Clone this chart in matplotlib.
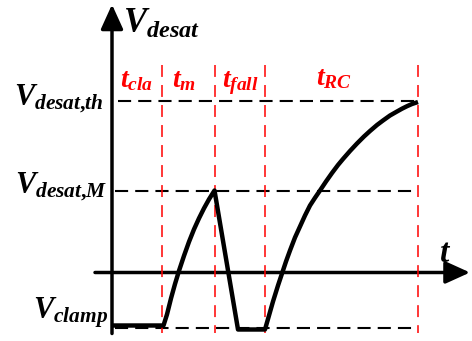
import matplotlib
matplotlib.use("Agg")
import matplotlib.pyplot as plt

plt.rcParams['mathtext.fontset'] = 'custom'
plt.rcParams['mathtext.it'] = 'Liberation Serif:italic:bold'
plt.rcParams['mathtext.rm'] = 'Liberation Serif:bold'
plt.rcParams['mathtext.bf'] = 'Liberation Serif:bold'

# voltage levels (schematic units, axis crossing = 0)
v_th = 172.0
v_m = 82.0
v_clamp = -55.5

# phase boundaries on the time axis
t_cla_end = 50.0
t_m_end = 102.5
t_fall_end = 153.0
t_rc_end = 306.0

# V_desat waveform
wave_t = [0, 51.5, 55, 59, 63, 67, 72, 77, 82, 87, 92, 97, 102.5,
          126, 153, 157, 161, 166, 170, 174, 178, 183, 188, 193, 198,
          203, 208, 214, 220, 226, 231, 238, 245, 252, 258, 265, 271,
          278, 285, 290, 295, 300, 306]
wave_v = [-53, -53, -41.9, -25.9, -11.5, 1.7, 16.7, 30.7, 43.2, 54.2, 64.2, 73.2, 82,
          -57, -57, -43, -29, -13, -1, 11, 22, 35, 46, 57, 67,
          74.7, 82, 91, 99.5, 107.5, 113.5, 121.5, 129, 136, 141.5, 147.5, 152,
          157, 161, 163.8, 166.3, 168.5, 170.5]

level_names = [r'$V_{desat{,}th}$', r'$V_{desat{,}M}$', r'$V_{clamp}$']
level_vals = [v_th, v_m, v_clamp]
level_label_pos = [(-98, 167.5), (-97, 79.5), (-79, -45.5)]
level_line_start = [6, 3, 3]

phase_names = [r'$t_{cla}$', r'$t_{m}$', r'$t_{fall}$', r'$t_{RC}$']
phase_label_pos = [(8, 185.5), (60, 185.5), (110, 185.5), (204, 187.5)]
phase_bounds = [t_cla_end, t_m_end, t_fall_end, t_rc_end]

fig = plt.figure(figsize=(4.72, 3.41), dpi=100)
ax = fig.add_axes([0, 0, 1, 1])
ax.set_xlim(-112, 360)
ax.set_ylim(-68.5, 272.5)
ax.axis('off')

# axes with arrows
arrow = dict(arrowstyle='-|>,head_length=0.75,head_width=0.34',
             lw=2.5, color='k', mutation_scale=20, shrinkA=0, shrinkB=0)
ax.annotate('', xy=(0, 268), xytext=(0, -61), arrowprops=arrow, zorder=2)
ax.annotate('', xy=(358, 0), xytext=(-17, 0), arrowprops=arrow, zorder=2)

# reference levels
for v, t0 in zip(level_vals, level_line_start):
    ax.plot([t0, t_rc_end], [v, v], color='k', lw=1.5,
            linestyle=(0, (6.3, 3.4)), zorder=1)

# phase boundaries
for t in phase_bounds:
    ax.plot([t, t], [207.5, -60.5], color='#ff0000', lw=1.1,
            linestyle=(0, (7.8, 5.3)), zorder=3)

# waveform
ax.plot(wave_t, wave_v, color='k', lw=3.2, solid_joinstyle='round',
        solid_capstyle='butt', zorder=4)

# labels
ax.text(11, 239.5, r'$V_{desat}$', fontsize=25, ha='left', va='baseline')
for name, (x, y) in zip(level_names, level_label_pos):
    ax.text(x, y, name, fontsize=22, ha='left', va='baseline')
for name, (x, y) in zip(phase_names, phase_label_pos):
    ax.text(x, y, name, fontsize=20, color='#ff0000', ha='left', va='baseline')
ax.text(327, 10.5, r'$t$', fontsize=24, ha='left', va='baseline')

fig.savefig('out.png', dpi=100)
